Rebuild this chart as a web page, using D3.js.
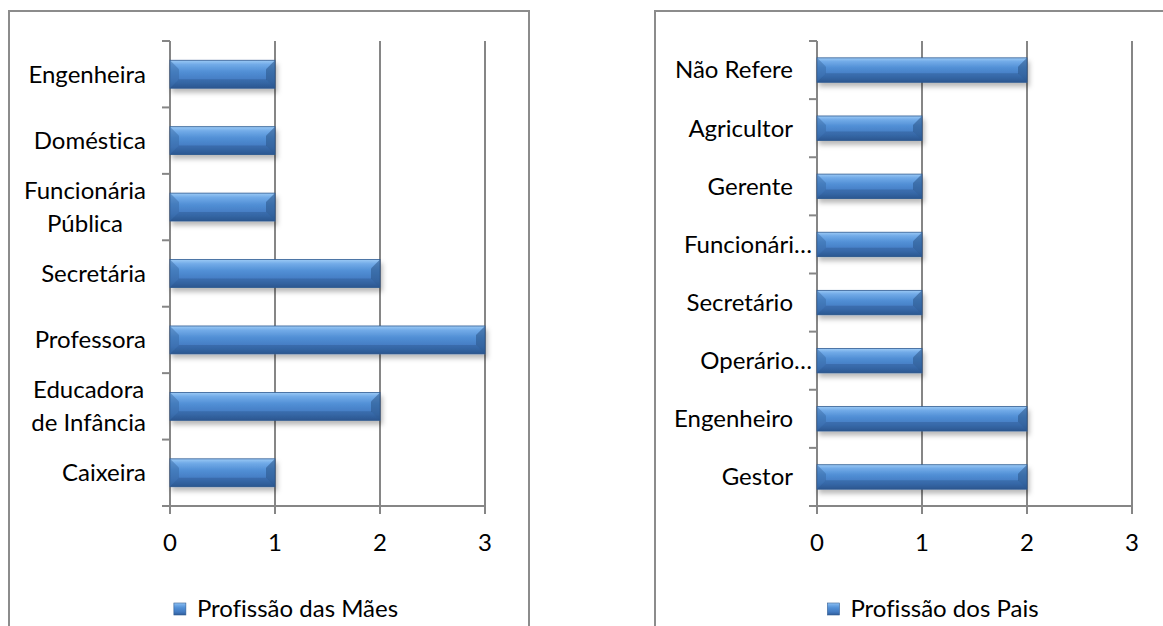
<!DOCTYPE html>
<html>
<head>
<meta charset="utf-8">
<script src="https://cdn.jsdelivr.net/npm/d3@7"></script>
<style>
  body { margin: 0; background: #fff; }
  svg text { font-family: Lato, "Open Sans", sans-serif; fill: #000; white-space: pre; font-variant-ligatures: none; }
</style>
</head>
<body>
<svg width="1163" height="626"></svg>
<script>
// categories listed bottom to top, as in the spreadsheet
const maesCategorias = ["Caixeira", "Educadora\nde Infância", "Professora", "Secretária", "Funcionária\nPública", "Doméstica", "Engenheira"];
const maesValores = [1, 2, 3, 2, 1, 1, 1];

const paisCategorias = ["Gestor", "Engenheiro", "Operário…", "Secretário", "Funcionári…", "Gerente", "Agricultor", "Não Refere"];
const paisValores = [2, 2, 1, 1, 1, 1, 1, 2];

const xTicks = [0, 1, 2, 3];
const legendas = ["Profissão das Mães", "Profissão dos Pais"];

const fontSize = 24;

const svg = d3.select('svg');
const defs = svg.append('defs');

const barGrad = defs.append('linearGradient')
  .attr('id', 'barGrad').attr('x1', 0).attr('y1', 0).attr('x2', 0).attr('y2', 1);
[[0, '#9ccaf5'], [0.15, '#72abe8'], [0.4, '#5290d6'], [0.75, '#4279c0'], [1, '#2f5d99']]
  .forEach(([o, c]) => barGrad.append('stop').attr('offset', o).attr('stop-color', c));

const shadow = defs.append('filter').attr('id', 'shadow')
  .attr('x', '-5%').attr('y', '-20%').attr('width', '115%').attr('height', '160%');
shadow.append('feDropShadow')
  .attr('dx', 2).attr('dy', 4).attr('stdDeviation', 2.5)
  .attr('flood-color', '#000').attr('flood-opacity', 0.28);

const drawPanel = (selection, props) => {
  const { categorias, valores, legenda, frameX, frameW, left } = props;
  const top = 41, bottom = 506, width = 315;

  selection.append('rect')
    .attr('x', frameX).attr('y', 11)
    .attr('width', frameW).attr('height', 700)
    .attr('fill', 'none').attr('stroke', '#8c8c8c').attr('stroke-width', 2);

  const x = d3.scaleLinear().domain([0, 3]).range([left, left + width]);
  const y = d3.scaleBand()
    .domain(categorias.slice().reverse())
    .range([top, bottom])
    .paddingInner(0.58).paddingOuter(0.29);

  // vertical gridlines
  selection.selectAll('.grid').data(xTicks.slice(1))
    .enter().append('line')
      .attr('x1', x).attr('x2', x)
      .attr('y1', top).attr('y2', bottom)
      .attr('stroke', '#868686').attr('stroke-width', 2);

  // y axis with ticks between categories
  selection.append('line')
    .attr('x1', left).attr('x2', left).attr('y1', top).attr('y2', bottom + 8)
    .attr('stroke', '#868686').attr('stroke-width', 2);
  const step = y.step();
  selection.selectAll('.ytick').data(d3.range(categorias.length))
    .enter().append('line')
      .attr('x1', left - 8).attr('x2', left)
      .attr('y1', i => top + i * step).attr('y2', i => top + i * step)
      .attr('stroke', '#868686').attr('stroke-width', 2);

  // x axis
  selection.append('line')
    .attr('x1', left - 8).attr('x2', left + width).attr('y1', bottom).attr('y2', bottom)
    .attr('stroke', '#868686').attr('stroke-width', 2);
  selection.selectAll('.xtick').data(xTicks)
    .enter().append('line')
      .attr('x1', x).attr('x2', x).attr('y1', bottom).attr('y2', bottom + 8)
      .attr('stroke', '#868686').attr('stroke-width', 2);
  selection.selectAll('.xlabel').data(xTicks)
    .enter().append('text')
      .attr('x', x).attr('y', 543)
      .attr('dy', '0.35em')
      .attr('text-anchor', 'middle')
      .attr('font-size', fontSize)
      .text(d => d);

  // bars
  const bars = selection.selectAll('.bar').data(categorias.map((c, i) => ({ c, v: valores[i] })))
    .enter().append('g').attr('class', 'bar');
  bars.append('rect')
    .attr('x', left).attr('y', d => y(d.c))
    .attr('width', d => x(d.v) - left).attr('height', y.bandwidth())
    .attr('fill', 'url(#barGrad)')
    .attr('stroke', '#2f5b92').attr('stroke-width', 0.8)
    .attr('filter', 'url(#shadow)');
  const bev = 9;
  bars.append('path')
    .attr('d', d => {
      const y0 = y(d.c), h = y.bandwidth();
      return `M${left},${y0}L${left + bev},${y0 + bev}L${left + bev},${y0 + h - bev}L${left},${y0 + h}Z`;
    })
    .attr('fill', '#35679f').attr('opacity', 0.45);
  bars.append('path')
    .attr('d', d => {
      const y0 = y(d.c), h = y.bandwidth(), xe = x(d.v);
      return `M${xe},${y0}L${xe - bev},${y0 + bev}L${xe - bev},${y0 + h - bev}L${xe},${y0 + h}Z`;
    })
    .attr('fill', '#2a5387').attr('opacity', 0.55);
  bars.append('path')
    .attr('d', d => {
      const y0 = y(d.c), h = y.bandwidth(), xe = x(d.v);
      return `M${left},${y0 + h}L${left + bev},${y0 + h - bev}L${xe - bev},${y0 + h - bev}L${xe},${y0 + h}Z`;
    })
    .attr('fill', '#264d80').attr('opacity', 0.35);

  // category labels: block right-aligned, lines centred inside the block
  const labels = selection.selectAll('.cat').data(categorias)
    .enter().append('text')
      .attr('class', 'cat')
      .attr('font-size', fontSize)
      .attr('text-anchor', 'middle');
  labels.each(function (d) {
    const lines = d.split('\n');
    const t = d3.select(this);
    const cy = y(d) + y.bandwidth() / 2;
    const right = d.endsWith('…') ? left - 5 : left - 24;
    const lineH = 33;
    const spans = lines.map((ln, i) => t.append('tspan')
      .attr('y', cy + (i - (lines.length - 1) / 2) * lineH)
      .attr('dy', '0.35em')
      .text(ln));
    const maxW = d3.max(spans, s => s.node().getComputedTextLength());
    spans.forEach(s => s.attr('x', right - maxW / 2));
  });

  // legend
  const lg = selection.append('g');
  const lgText = lg.append('text')
    .attr('font-size', fontSize)
    .attr('y', 609).attr('dy', '0.35em')
    .text(legenda);
  const tw = lgText.node().getComputedTextLength();
  const total = 12 + 11 + tw;
  const lx = left + 116 - total / 2;
  lg.append('rect')
    .attr('x', lx).attr('y', 603).attr('width', 12).attr('height', 12)
    .attr('fill', 'url(#barGrad)').attr('stroke', '#2f5b92').attr('stroke-width', 0.6);
  lgText.attr('x', lx + 23);
};

svg.append('g').call(drawPanel, {
  categorias: maesCategorias, valores: maesValores, legenda: legendas[0],
  frameX: 9, frameW: 520, left: 170
});
svg.append('g').call(drawPanel, {
  categorias: paisCategorias, valores: paisValores, legenda: legendas[1],
  frameX: 655, frameW: 600, left: 817
});
</script>
</body>
</html>
